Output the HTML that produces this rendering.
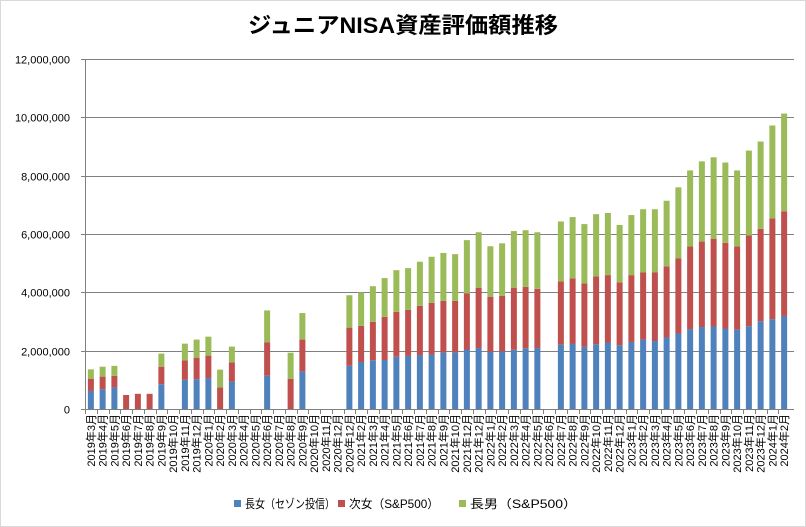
<!DOCTYPE html>
<html><head><meta charset="utf-8">
<style>
html,body{margin:0;padding:0;background:#fff;}
svg{display:block;font-family:"Liberation Sans","Noto Sans CJK JP",sans-serif;}
</style></head>
<body>
<svg id="chart" width="806" height="527" viewBox="0 0 806 527">
<rect x="0.5" y="0.5" width="805" height="526" fill="#fff" stroke="#d9d9d9"/>
<text x="403" y="33" text-anchor="middle" font-size="22" font-weight="bold" fill="#000" textLength="310" lengthAdjust="spacingAndGlyphs">ジュニアNISA資産評価額推移</text>
<g id="grid"></g><g id="bars"></g><g id="axes"></g><g id="legend"></g>
</svg>
<script>
const categories = ["2019年3月","2019年4月","2019年5月","2019年6月","2019年7月","2019年8月","2019年9月","2019年10月","2019年11月","2019年12月",
"2020年1月","2020年2月","2020年3月","2020年4月","2020年5月","2020年6月","2020年7月","2020年8月","2020年9月","2020年10月","2020年11月","2020年12月",
"2020年12月","2021年2月","2021年3月","2021年4月","2021年5月","2021年6月","2021年7月","2021年8月","2021年9月","2021年10月","2021年12月","2021年12月",
"2022年1月","2022年2月","2022年3月","2022年4月","2022年5月","2022年6月","2022年7月","2022年8月","2022年9月","2022年10月","2022年11月","2022年12月",
"2023年1月","2023年2月","2023年3月","2023年4月","2023年5月","2023年6月","2023年7月","2023年8月","2023年9月","2023年10月","2023年11月","2023年12月",
"2024年1月","2024年2月"];
// values in millions of yen
const eldestDaughter = [0.62,0.68,0.74,0,0,0,0.85,0,1.00,1.02,1.06,0,0.94,0,0,1.14,0,0,1.29,0,0,0,
1.48,1.61,1.67,1.68,1.79,1.82,1.85,1.87,1.94,1.94,2.04,2.09,1.96,1.97,2.03,2.08,2.09,0,
2.20,2.23,2.13,2.22,2.28,2.19,2.30,2.38,2.33,2.45,2.59,2.74,2.81,2.83,2.76,2.72,2.84,3.01,3.08,3.19];
const secondDaughter = [0.42,0.43,0.40,0.48,0.52,0.52,0.60,0,0.67,0.74,0.77,0.74,0.66,0,0,1.15,0,1.03,1.09,0,0,0,
1.31,1.24,1.32,1.48,1.54,1.58,1.69,1.77,1.77,1.77,1.93,2.07,1.89,1.91,2.13,2.11,2.03,0,
2.17,2.25,2.18,2.33,2.31,2.15,2.29,2.30,2.35,2.44,2.57,2.83,2.93,3.01,2.94,2.85,3.11,3.17,3.45,3.59];
const eldestSon = [0.32,0.34,0.34,0,0,0,0.45,0,0.57,0.62,0.65,0.61,0.54,0,0,1.09,0,0.90,0.91,0,0,0,
1.11,1.15,1.22,1.33,1.43,1.43,1.51,1.58,1.64,1.60,1.82,1.90,1.73,1.80,1.94,1.94,1.94,0,
2.06,2.10,2.03,2.13,2.13,1.97,2.06,2.17,2.17,2.25,2.44,2.61,2.75,2.79,2.75,2.61,2.91,2.99,3.19,3.35];
const yTicks = [0,2,4,6,8,10,12];
const yTickLabels = ["0","2,000,000","4,000,000","6,000,000","8,000,000","10,000,000","12,000,000"];
const seriesNames = ["長女（セゾン投信）","次女（S&P500）","長男（S&P500）"];
const seriesColors = ["#4f81bd","#c0504d","#9bbb59"];

const NS="http://www.w3.org/2000/svg";
const X0=85, X1=790, Y0=409, Y1=59, YMAX=12;
const slot=(X1-X0)/categories.length;
const yScale=v=>Y0-(v/YMAX)*(Y0-Y1);
const xCenter=i=>X0+slot*(i+0.5);
function mk(tag,attrs,parent){const e=document.createElementNS(NS,tag);for(const k in attrs)e.setAttribute(k,attrs[k]);parent.appendChild(e);return e;}
const grid=document.getElementById('grid'),bars=document.getElementById('bars'),axes=document.getElementById('axes'),legend=document.getElementById('legend');

yTicks.forEach((t,i)=>{
  const y=Math.round(yScale(t))+0.5;
  if(t>0){const l=mk('line',{x1:X0,x2:X1+4,y1:y,y2:y,stroke:'#808080','stroke-width':1},grid);
  
  }
  const tk=mk('line',{x1:X0-4,x2:X0,y1:y,y2:y,stroke:'#808080'},axes);
  
  
  const tx=mk('text',{x:X0-15,y:y+4,'text-anchor':'end','font-size':11,fill:'#000'},axes);
  tx.textContent=yTickLabels[i];
  
  
});
const ya=mk('line',{x1:X0+0.5,x2:X0+0.5,y1:Y1,y2:Y0,stroke:'#808080'},axes);


const xa=mk('line',{x1:X0,x2:X1+4,y1:Y0+0.5,y2:Y0+0.5,stroke:'#808080'},axes);



const series=[eldestDaughter,secondDaughter,eldestSon];
const bw=6;
categories.forEach((c,i)=>{
  let cum=0;
  series.forEach((s,k)=>{
    const v=s[i]; if(v>0){
      const yt=yScale(cum+v), yb=yScale(cum);
      const r=mk('rect',{x:xCenter(i)-bw/2,y:yt,width:bw,height:yb-yt,fill:seriesColors[k]},bars);
      
      
    }
    cum+=v;
  });
  const tx=X0+slot*i;
  const tk=mk('line',{x1:Math.round(tx)+0.5,x2:Math.round(tx)+0.5,y1:Y0,y2:Y0+5,stroke:'#808080'},axes);
  
  
  const xc=xCenter(i)+4;
  const t=mk('text',{x:xc,y:414,'text-anchor':'end','font-size':11,fill:'#000',transform:`rotate(-90 ${xc} 414)`},axes);
  t.textContent=c;
  
  
});
const lx=[234,338,459];
const lw=[90,90,107];
seriesNames.forEach((n,k)=>{
  const r=mk('rect',{x:lx[k],y:500,width:7,height:7,fill:seriesColors[k]},legend);
  
  
  const t=mk('text',{x:lx[k]+11,y:508,'font-size':12,fill:'#000',textLength:lw[k],lengthAdjust:'spacingAndGlyphs'},legend);
  t.textContent=n;
  
  
});
</script>
</body></html>
